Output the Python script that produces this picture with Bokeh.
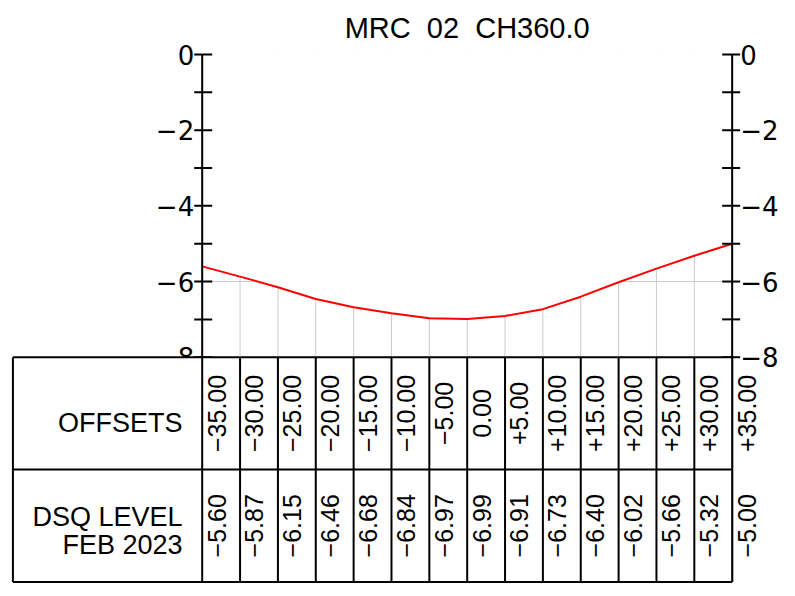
import numpy as np
from bokeh.plotting import figure
from bokeh.models import Range1d
from bokeh.core.properties import value
from bokeh.embed import file_html
from bokeh.resources import INLINE

# ---------------- data ----------------
title_text = "MRC\u00a0\u00a002\u00a0\u00a0CH360.0"
offsets = [-35, -30, -25, -20, -15, -10, -5, 0, 5, 10, 15, 20, 25, 30, 35]
levels = [-5.60, -5.87, -6.15, -6.46, -6.68, -6.84, -6.97, -6.99,
          -6.91, -6.73, -6.40, -6.02, -5.66, -5.32, -5.00]
major_ticks = [0, -2, -4, -6, -8]
major_labels = ["0", "\u22122", "\u22124", "\u22126", "\u22128"]
minor_ticks = [-1, -3, -5, -7]
grid_levels = [-2, -4, -6]
row_titles = ["OFFSETS", "DSQ LEVEL", "FEB 2023"]


def fmt_offset(v):
    if v == 0:
        return "0.00"
    return f"{v:+.2f}".replace("-", "\u2212")


def fmt_level(v):
    return f"{v:.2f}".replace("-", "\u2212")


offset_labels = [fmt_offset(v) for v in offsets]
level_labels = [fmt_level(v) for v in levels]

# ---------------- geometry ----------------
PX_X = 7.571   # pixels per offset unit
PX_Y = 37.84   # pixels per level unit
W, H = 787, 590
FONT = value("Liberation Sans")
AXFONT = value("DejaVu Sans")

xl, xr = offsets[0], offsets[-1]
y_top, y_bot = major_ticks[0], major_ticks[-1]
row_h = 2.97
rows = [y_bot, y_bot - row_h, y_bot - 2 * row_h]
table_left = -60.0

x0r = xl - 201.7 / PX_X
y1r = y_top + 54.0 / PX_Y
p = figure(width=W, height=H,
           x_range=Range1d(x0r, x0r + W / PX_X),
           y_range=Range1d(y1r - H / PX_Y, y1r),
           output_backend="svg", toolbar_location=None,
           x_axis_location=None, y_axis_location=None,
           min_border=0, outline_line_color=None,
           background_fill_color="white", border_fill_color="white")
p.grid.visible = False

n = len(offsets)
GRID = "#cccccc"
# grid
p.segment(x0=[xl] * len(grid_levels), x1=[xr] * len(grid_levels),
          y0=grid_levels, y1=grid_levels, line_color=GRID, line_width=1)
p.segment(x0=offsets, x1=offsets, y0=[y_bot] * n, y1=[y_top] * n,
          line_color=GRID, line_width=1)
# mask grid above the profile
p.varea(x=offsets, y1=levels, y2=[y_top] * n, fill_color="white")

# profile
p.line(offsets, levels, line_color="red", line_width=2)

# axes
LW = 2
p.segment(x0=[xl, xr], x1=[xl, xr], y0=[y_top, y_top], y1=[rows[-1], rows[-1]],
          line_color="black", line_width=LW)
ticks = major_ticks + minor_ticks
nt = len(ticks)
p.segment(x0=[xl - 8 / PX_X] * nt, x1=[xl + 10 / PX_X] * nt, y0=ticks, y1=ticks,
          line_color="black", line_width=LW)
p.segment(x0=[xr - 10 / PX_X] * nt, x1=[xr + 8 / PX_X] * nt, y0=ticks, y1=ticks,
          line_color="black", line_width=LW)
p.text(x=[xl] * len(major_ticks), y=major_ticks, text=major_labels,
       x_offset=-8, text_align="right", text_baseline="middle",
       text_font=AXFONT, text_font_size="26px", text_color="black")
p.text(x=[xr] * len(major_ticks), y=major_ticks, text=major_labels,
       x_offset=8, text_align="left", text_baseline="middle",
       text_font=AXFONT, text_font_size="26px", text_color="black")

# table
p.quad(left=[table_left], right=[xr], top=[rows[0]], bottom=[rows[-1]],
       fill_color="white", line_color=None)
p.segment(x0=[table_left] * 3, x1=[xr] * 3, y0=rows, y1=rows,
          line_color="black", line_width=LW)
p.segment(x0=[table_left] + offsets, x1=[table_left] + offsets,
          y0=[rows[0]] * (n + 1), y1=[rows[-1]] * (n + 1),
          line_color="black", line_width=LW)

row1_c = (rows[0] + rows[1]) / 2
row2_c = (rows[1] + rows[2]) / 2
col_x = [v + 1.9 for v in offsets]
p.text(x=col_x, y=[row1_c] * n, text=offset_labels, angle=np.pi / 2,
       text_align="center", text_baseline="middle",
       text_font=FONT, text_font_size="25px", text_color="black")
p.text(x=col_x, y=[row2_c] * n, text=level_labels, angle=np.pi / 2,
       text_align="center", text_baseline="middle",
       text_font=FONT, text_font_size="25px", text_color="black")

lab_x = -37.6
p.text(x=[lab_x], y=[row1_c], text=[row_titles[0]], y_offset=10,
       text_align="right", text_baseline="alphabetic",
       text_font=FONT, text_font_size="27px", text_color="black")
p.text(x=[lab_x, lab_x], y=[row2_c, row2_c], text=row_titles[1:],
       y_offset=[-9, 19.5], text_align="right", text_baseline="alphabetic",
       text_font=FONT, text_font_size="27px", text_color="black")

# title
p.text(x=[0], y=[y_top], text=[title_text], y_offset=-27,
       text_align="center", text_baseline="alphabetic",
       text_font=FONT, text_font_size="29px", text_color="black")

open("out.html", "w").write(file_html(p, INLINE))
